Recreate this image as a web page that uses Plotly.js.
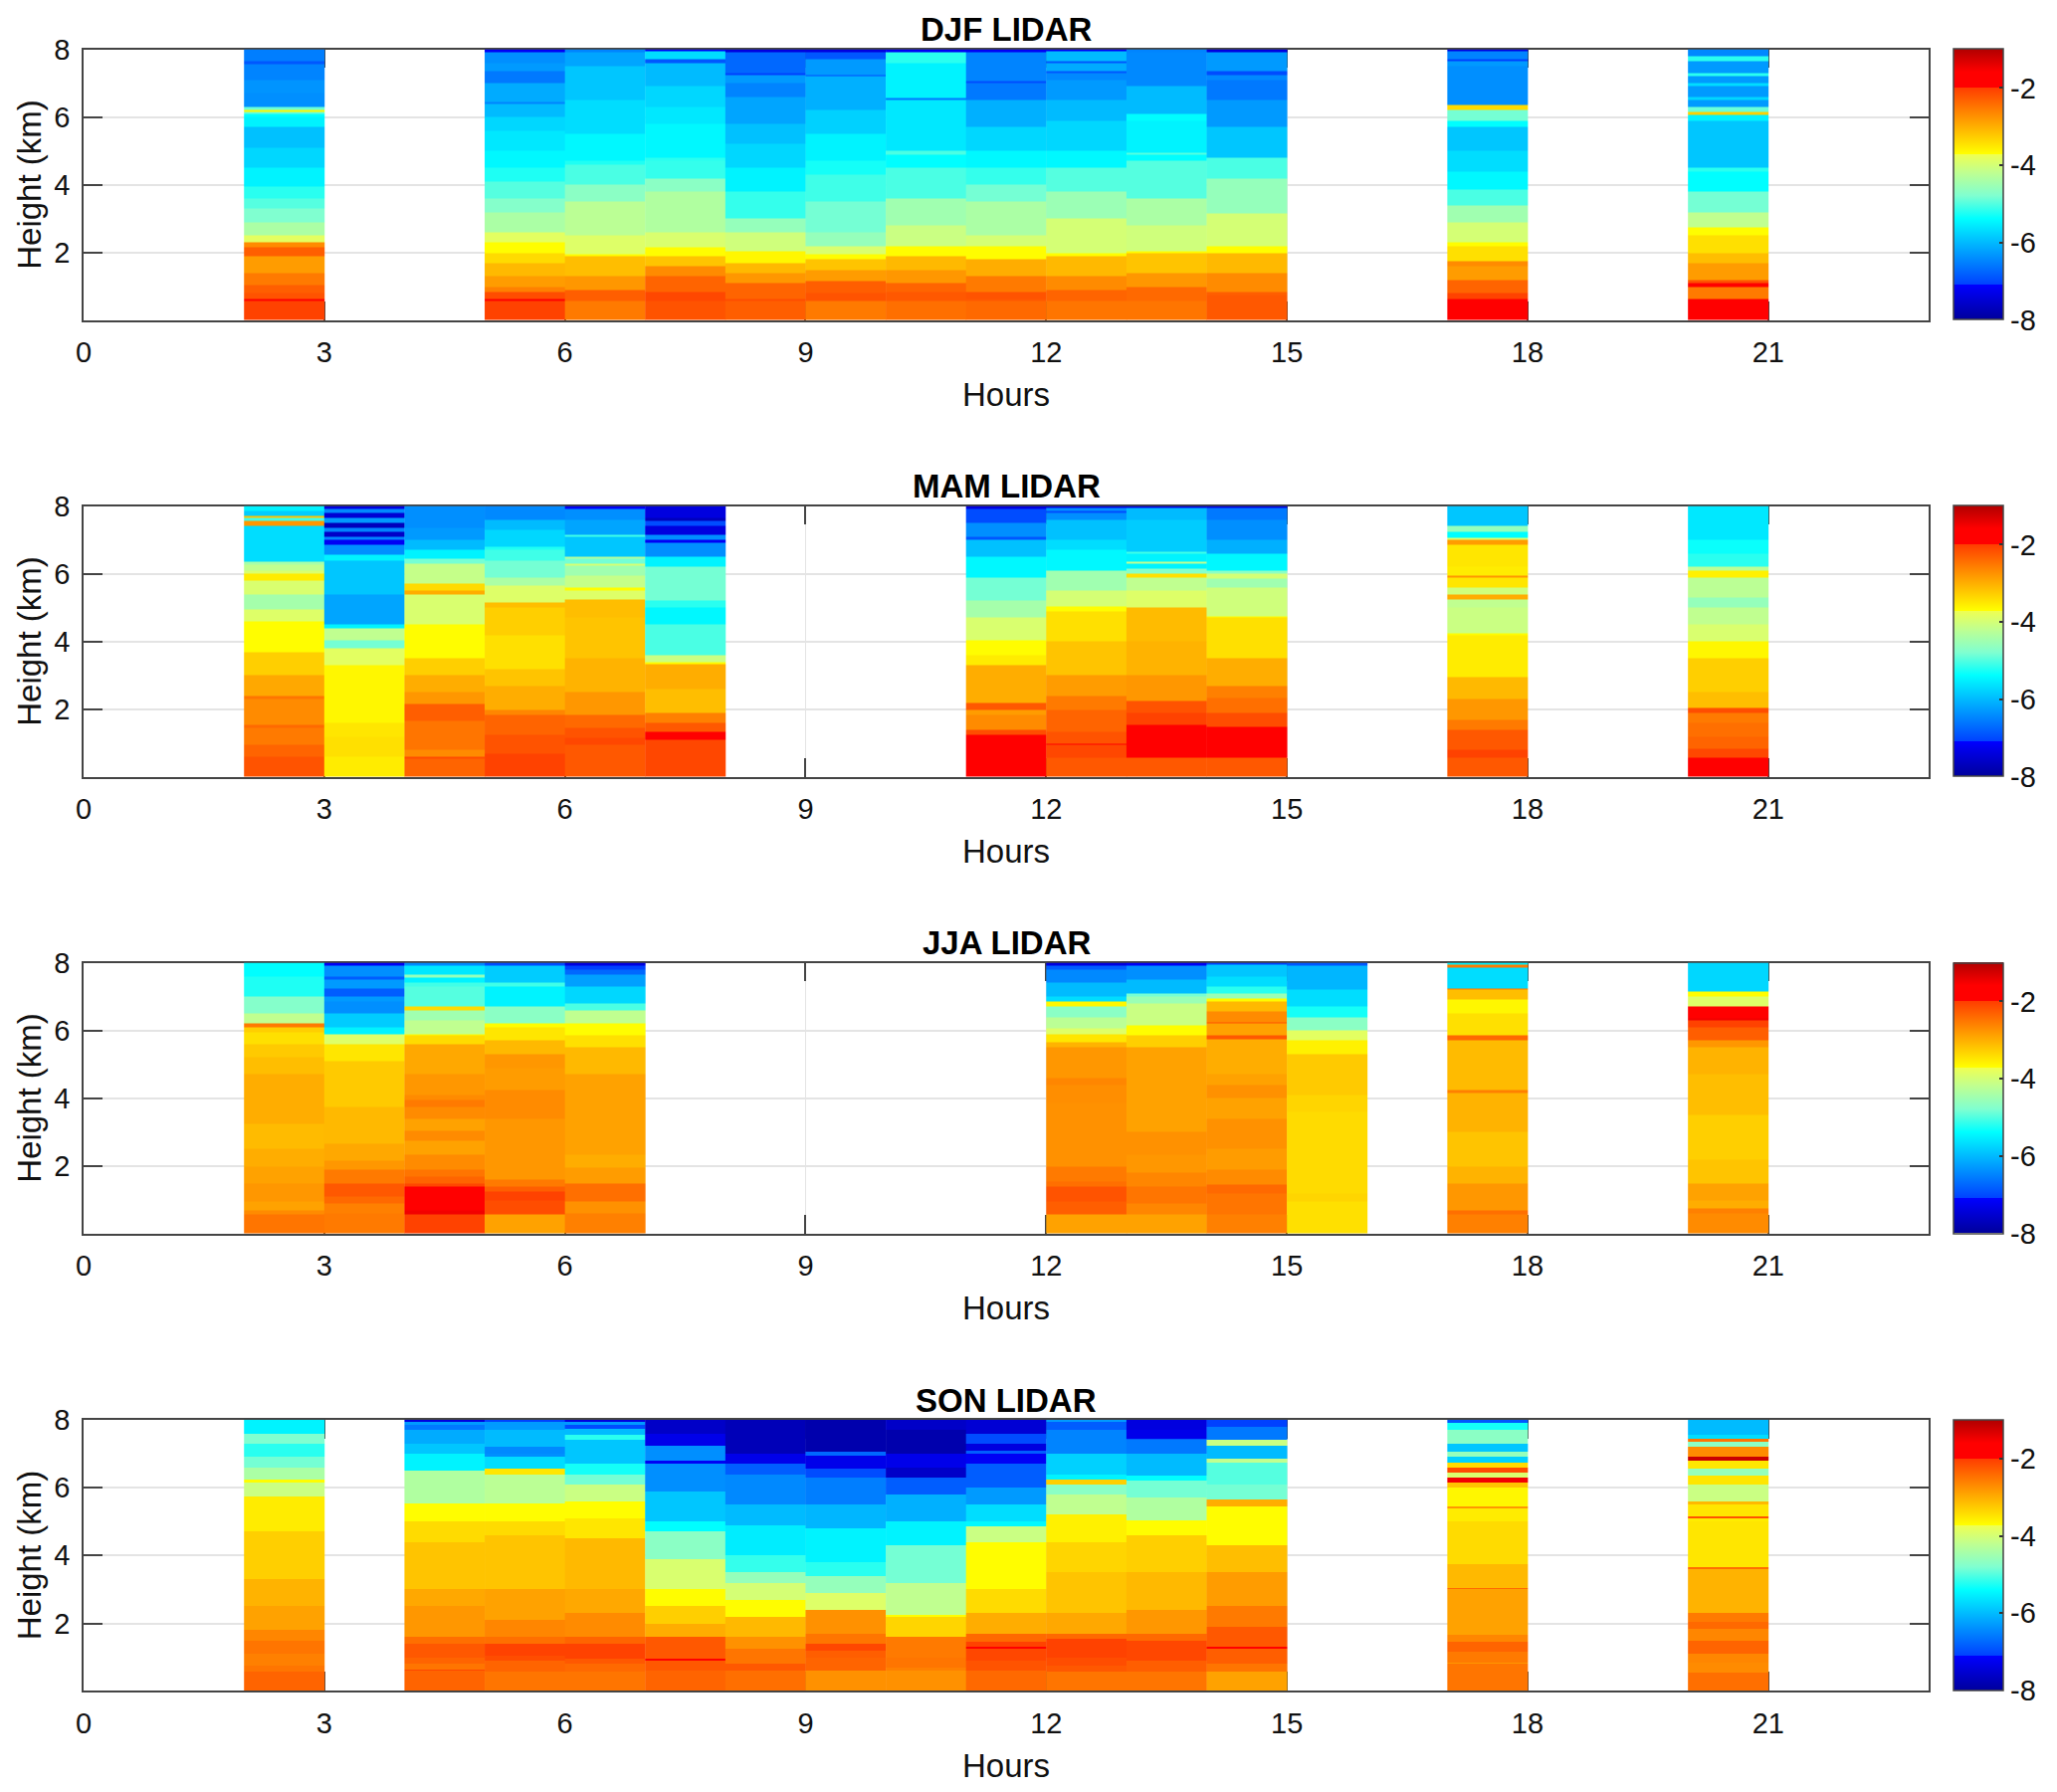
<!DOCTYPE html>
<html><head><meta charset="utf-8">
<script src="https://cdn.plot.ly/plotly-3.0.1.min.js"></script>
<style>html,body{margin:0;padding:0;background:#fff}</style></head>
<body><div id="chart" style="width:2067px;height:1801px"></div>
<script>
// Each column: alternating band top (km), log value.
const djf2=[.58,-2.05,.65,-1.85,.8,-2.2,1.05,-2.3,1.4,-2.55,1.9,-2.85,2.15,-2.3,2.3,-2.7,2.5,-3.85,2.9,-4.4,3.3,-4.8,3.6,-5,3.95,-5.2,4.5,-5.5,5.1,-5.75,5.7,-5.95,6,-5.5,6.1,-5.4,6.15,-4.9,6.22,-3.65,6.3,-4.9,6.7,-6.4,7.1,-6.35,7.55,-6.5,7.65,-6.9,8,-6.55];
const djf5=[.58,-2.05,.65,-1.85,.85,-2.15,1,-2.6,1.3,-2.85,1.7,-3.1,2,-3.4,2.3,-3.7,2.6,-3.85,3.2,-4.4,3.6,-4.75,4.1,-5,4.5,-5.25,5,-5.45,5.6,-5.6,6,-5.75,6.4,-6,6.45,-6.5,7,-6.15,7.35,-6.6,7.6,-6.3,7.9,-6.4,8,-7.2];
const djf6=[.58,-2.55,.9,-2.3,1.3,-2.8,1.9,-3.15,1.95,-3.7,2.5,-3.9,3.5,-4.25,4,-4.7,4.6,-5.05,4.7,-5.25,5.5,-5.45,6.5,-5.7,7.5,-5.9,7.9,-6.2,8,-6.5];
const djf7=[.58,-2.2,.83,-2.1,1.3,-2.35,1.6,-2.7,1.9,-3.2,2.15,-3.7,2.6,-3.95,3.8,-4.35,4.2,-4.7,4.7,-5.15,4.8,-5.2,5.8,-5.45,6.3,-5.6,6.9,-5.75,7.6,-6,7.72,-6.9,7.95,-5.7,8,-7.2];
const djf8=[.58,-2.3,.65,-2.15,1.1,-2.35,1.4,-2.8,1.7,-3.1,2.05,-3.65,2.6,-4.05,3,-4.6,3.8,-5.15,4.5,-5.5,5.2,-5.75,5.8,-5.95,6.6,-6.2,7,-6.5,7.25,-6.3,7.3,-7.1,7.9,-6.75,8,-7.4];
const djf9=[.58,-2.55,.8,-2.2,1.15,-2.3,1.5,-2.85,1.8,-3.2,1.95,-3.7,2.2,-3.95,2.6,-4.6,3.5,-4.85,4.3,-5.1,4.7,-5.3,5.5,-5.5,6.2,-5.8,7.2,-6.1,7.25,-7,7.7,-6.3,7.9,-6.9,8,-7.4];
const djf10=[.58,-2.45,.85,-2.25,1.1,-2.35,1.5,-2.8,1.9,-3.1,2.2,-3.7,2.8,-4.1,3.6,-4.5,4.5,-5.05,4.9,-5.4,5,-5.05,6.5,-5.6,6.55,-6.6,7.6,-5.5,7.9,-5.2,8,-7.2];
const djf11=[.58,-2.4,.65,-2.25,.85,-2.2,1.3,-2.55,1.8,-3,2.2,-3.7,2.5,-4,3.5,-4.4,4,-4.85,4.5,-5.15,5,-5.45,5.7,-5.75,6.5,-6.1,7,-6.6,7.05,-7,7.9,-6.5,8,-7.2];
const djf12=[.58,-2.5,.9,-2.35,1.3,-2.7,1.9,-3.1,2,-3.7,3,-4,3.8,-4.55,4.5,-5,5,-5.45,5.9,-5.75,6.5,-6,7.1,-6.3,7.3,-6.45,7.35,-6.9,7.6,-6.15,7.65,-6.9,7.95,-6,8,-7.2];
const djf13=[.58,-2.5,1,-2.4,1.4,-2.8,2,-3.2,2.05,-3.7,2.8,-4.05,3.6,-4.4,4.7,-5,4.9,-5.4,4.95,-5,5.9,-5.5,6.1,-5.4,6.9,-6,7.9,-6.45,8,-6.5];
const djf14=[.75,-2.25,.85,-2.3,1.4,-2.7,2,-3.1,2.2,-3.7,3.15,-4,4.2,-4.6,4.8,-5.05,5.7,-5.9,6.5,-6.3,7.1,-6.6,7.25,-6.45,7.35,-7,7.9,-6.3,8,-7.4];
const djf17=[.65,-1.8,.8,-2.05,1.2,-2.35,1.6,-2.85,1.75,-2.7,2.2,-3.45,2.3,-3.7,2.9,-4,3.4,-4.5,3.85,-5.05,4.4,-5.45,5,-5.7,5.7,-5.9,5.9,-5.4,6.2,-4.85,6.35,-3.4,7.5,-6.4,7.65,-6.3,7.7,-7.1,7.95,-6.5,8,-7.4];
const djf20=[.65,-1.85,1,-2.55,1.1,-1.9,1.2,-2.2,1.7,-2.85,2,-3.15,2.5,-3.45,2.75,-3.7,3.2,-4.2,3.8,-4.85,4.4,-5.4,4.5,-5.2,5.9,-5.9,6.05,-5.5,6.15,-3.3,6.3,-4.9,6.5,-6.3,6.6,-5.75,6.9,-6.3,7,-5.7,7.2,-6.3,7.3,-5.2,7.65,-6.3,7.8,-5.2,8,-6.45];

const mam2=[.62,-2.2,.95,-2.35,1.45,-2.55,1.55,-2.4,2.3,-2.7,2.4,-2.5,3,-2.95,3.7,-3.3,4.6,-3.7,4.95,-3.9,5.4,-4.45,5.8,-3.95,6,-3.55,6.1,-3.95,6.28,-4.2,6.35,-4.45,7.4,-5.7,7.55,-2.8,7.65,-5.1,7.7,-3.2,7.85,-5.85,8,-5.5];
const mam3=[.6,-3.55,1.2,-3.45,1.6,-3.5,3.3,-3.65,3.8,-3.85,4.05,-4.85,4.4,-4.2,4.5,-5.5,5.4,-6.2,6.4,-5.9,6.55,-5.5,6.85,-6.4,7,-7.2,7.1,-6.5,7.25,-7.6,7.35,-6.5,7.5,-7.7,7.65,-6.3,7.8,-7.5,7.92,-6.45,8,-7.4];
const mam4=[.55,-2.35,.6,-2.15,.8,-2.7,1.65,-2.5,2.15,-2.3,2.5,-2.8,3,-3,3.5,-3.3,4.5,-3.7,5.4,-3.95,5.5,-3,5.7,-3.4,6.3,-4.15,6.45,-4.85,6.7,-5.5,7,-6,7.35,-6.3,8,-6.4];
const mam5=[.7,-2.05,1.25,-2.2,1.85,-2.35,2,-2.65,2.7,-3,3.2,-3.2,4.2,-3.45,5,-3.3,5.15,-3.15,5.65,-3.9,5.9,-4.4,6.4,-4.85,6.7,-5.1,6.8,-5.25,7.3,-5.75,7.6,-6,8,-6.45];
const mam6=[.95,-2.25,1.15,-2.1,1.45,-2.2,1.85,-2.4,2.5,-2.8,3.5,-3.05,4.7,-3.2,5.25,-3.15,5.5,-3.9,5.6,-3.7,5.95,-4.15,6.25,-4.5,6.3,-4,6.45,-4.85,6.5,-4.35,7.1,-5.9,7.15,-5.1,7.6,-6.2,7.9,-6.4,8,-7.2];
const mam7=[1.1,-2.1,1.35,-1.85,1.6,-2.25,1.9,-2.6,2.6,-3.15,3.35,-3,3.4,-3.7,3.6,-4.1,4.5,-5.05,5,-5.45,5.2,-5.2,6.2,-4.85,6.5,-5.5,6.9,-6.4,7,-7.2,7.15,-6.4,7.4,-7.4,7.55,-7,7.65,-7.7,8,-7.4];
const mam11=[1.25,-1.85,1.4,-2.15,1.85,-2.7,2,-2.85,2.2,-2.25,3.3,-3,3.6,-3.55,4.05,-3.7,4.7,-3.95,5.2,-4.45,5.9,-4.85,6.5,-5.45,7,-5.95,7.1,-6.9,7.5,-6.4,7.9,-7,8,-7.4];
const mam12=[.58,-2.25,.95,-2.1,1,-1.9,1.35,-2.2,2,-2.35,2.4,-2.55,3,-2.85,4,-3.2,4.9,-3.45,5.05,-3.7,5.5,-4,6.1,-4.5,6.7,-5.45,7,-5.7,7.6,-5.95,7.8,-6.4,7.85,-7,7.95,-6.4,8,-7.4];
const mam13=[.58,-2.25,1.55,-1.85,1.9,-2.05,2.25,-2.2,3,-2.8,4,-3.05,5,-3.12,5.5,-3.9,5.9,-4.2,6,-3.45,6.15,-4.75,6.3,-5.5,6.35,-4.2,6.6,-5.5,6.65,-5.1,7.6,-5.85,7.95,-6,8,-7.4];
const mam14=[.58,-2.25,1.5,-1.85,1.9,-2.15,2.35,-2.45,2.7,-2.6,3.5,-3,4.7,-3.45,4.75,-3.7,5.6,-4.05,5.85,-4.5,6,-4,6.1,-4.7,6.6,-5.45,7,-6.1,7.6,-6.4,7.95,-6.6,8,-7.4];
const mam17=[.58,-2.25,.8,-2.05,1.4,-2.25,1.7,-2.55,2.3,-2.8,2.95,-3.1,4.2,-3.55,4.25,-3.7,5,-4.1,5.25,-4.2,5.38,-3,5.6,-4.05,5.9,-3.5,5.95,-2.8,6.2,-3.55,6.85,-3.5,7,-2.85,7.05,-3.95,7.25,-5.4,7.4,-4.6,8,-5.9];
const mam20=[.58,-1.9,.85,-2.1,1.2,-2.35,1.6,-2.45,1.9,-2.55,2.05,-2.15,2.5,-3.15,3.5,-3.3,4,-3.65,4.5,-3.95,5,-4.2,5.3,-4.6,5.9,-4.25,6.1,-3.6,6.2,-4.25,6.6,-5.2,7,-5.35,8,-5.6];

const jja2=[.58,-2.5,.7,-2.7,.95,-2.9,1.5,-2.8,2,-2.9,2.5,-3,3.25,-3.12,4.7,-3,5.2,-3.15,5.6,-3.25,5.95,-3.45,6.1,-3.3,6.2,-2.55,6.5,-4.2,7,-4.75,7.6,-5.25,8,-5.4];
const jja3=[.6,-2.55,.9,-2.6,1.1,-2.4,1.5,-2.25,1.9,-2.55,2.15,-2.8,2.65,-2.95,3.75,-3.1,5.1,-3.25,5.6,-3.5,5.9,-3.9,6.1,-5.5,6.5,-5.85,6.85,-6.4,7,-6.3,7.25,-6.85,7.5,-6.3,7.6,-6.85,7.9,-6.4,8,-7.2];
const jja4=[.58,-2.05,.7,-1.5,1.4,-1.85,1.5,-2.1,1.7,-2.35,1.9,-2.5,2.35,-2.7,2.75,-2.9,3.05,-2.7,3.4,-2.9,3.75,-2.7,3.95,-2.55,4.1,-2.7,4.7,-2.8,5.6,-2.95,5.85,-3.4,5.9,-3.7,6.3,-4.2,6.6,-4.5,6.7,-3.4,7.3,-5,7.4,-5.1,7.55,-5.5,7.65,-4.6,7.9,-5.6,8,-6.45];
const jja5=[.58,-2.9,1,-2.15,1.25,-2.05,1.4,-2.3,1.6,-2.55,3.4,-2.8,4.25,-2.7,4.9,-2.85,5.3,-2.8,5.7,-3.1,6.1,-3.5,6.2,-3.7,6.7,-4.7,7.3,-5.5,7.4,-5.1,7.9,-5.85,8,-7];
const jja6=[.6,-2.6,.95,-2.75,1.5,-2.45,1.95,-2.85,2.35,-3,4.7,-2.9,5.5,-3.1,5.85,-3.45,6.2,-3.7,6.6,-4.2,6.8,-5.05,7.3,-5.75,7.65,-6.25,7.8,-6.75,7.9,-7.1,8,-7.4];
const jja12=[.58,-2.9,.95,-2.3,1.4,-2.2,1.55,-2.45,2,-2.55,3.85,-2.75,4.4,-2.72,4.6,-2.65,5.5,-2.8,5.65,-3.05,5.9,-3.5,6.05,-3.9,6.4,-4.25,6.7,-4.7,6.85,-3.65,7,-5.7,7.4,-6,7.8,-6.45,7.9,-6.85,8,-7.4];
const jja13=[.58,-2.9,.9,-2.65,1.4,-2.5,1.8,-2.65,2.35,-2.8,3,-2.75,5.5,-2.9,5.85,-3.3,6.15,-3.7,6.8,-4.1,7,-4.55,7.1,-4.85,7.5,-6,7.9,-6.4,8,-7.2];
const jja14=[.58,-2.6,1.2,-2.5,1.45,-2.4,1.9,-2.7,2.5,-2.85,3.4,-2.75,4,-2.9,4.4,-2.75,4.7,-2.9,5.75,-3,5.85,-2.25,6.2,-2.9,6.25,-2.2,6.55,-2.7,6.85,-3.1,6.95,-3.7,7.1,-4.55,7.3,-5.2,7.6,-5.7,7.95,-5.9,8,-7.1];
const jja15=[.95,-3.45,1.2,-3.35,3.6,-3.4,4.1,-3.35,5.3,-3.25,5.7,-3.6,6,-3.85,6.4,-4.7,6.7,-5.3,7.2,-5.7,7.9,-6.05,8,-6.9];
const jja17=[.58,-2.6,.7,-2.45,1.5,-2.8,2,-3.05,3,-3.2,4.15,-3.05,4.25,-2.6,5.7,-3.12,5.85,-2.4,6.5,-3.45,6.9,-3.65,7.2,-3.15,7.25,-2.5,7.85,-5.7,7.95,-2.55,8,-5.5];
const jja20=[.6,-2.7,.75,-2.6,1,-3,1.5,-2.9,2.2,-3.2,3.5,-3.3,4.7,-3.15,5.5,-3.05,5.7,-2.8,6.1,-2.3,6.3,-2.05,6.35,-1.5,6.7,-1.85,7,-3.9,7.15,-3.7,8,-5.75];

const son2=[.58,-2.35,.75,-2.5,1.1,-2.6,1.5,-2.5,1.8,-2.65,2.5,-2.9,3.3,-3.05,4.7,-3.3,5.75,-3.55,6.15,-4.1,6.25,-3.7,6.6,-4.4,6.9,-4.85,7.3,-5.2,7.6,-4.8,8,-5.5];
const son4=[.6,-2.35,.65,-2.1,.8,-2.5,1,-2.35,1.4,-2.25,1.6,-2.45,2.5,-2.8,3,-2.95,4.4,-3.2,5,-3.4,5.55,-3.7,6.5,-4.35,7,-5.5,7.3,-5.9,7.7,-6.15,7.85,-6.6,7.95,-6.3,8,-7.4];
const son5=[.58,-2.5,.9,-2.35,1.05,-2.15,1.4,-2.05,1.6,-2.45,2.1,-2.65,3,-2.9,4.6,-3.2,5,-3.4,5.55,-3.7,6.4,-4.25,6.55,-3.5,6.9,-5.7,7,-6.4,7.2,-6.45,7.7,-6,7.95,-6.3,8,-7.1];
const son6=[.58,-2.5,.8,-2.4,.95,-2.25,1.4,-2.05,1.6,-2.35,2.3,-2.7,3,-2.95,4.5,-3.1,5.1,-3.5,5.6,-3.7,6.1,-4.1,6.4,-4.85,6.7,-5.3,7.4,-5.9,7.55,-5.2,7.75,-6,7.85,-7,7.95,-6.3,8,-7.4];
const son7=[.6,-2.35,.9,-2.25,.95,-2,1.6,-2.25,2,-3,2.5,-3.3,3,-3.7,3.9,-3.95,4.7,-4.7,5,-5.4,5.9,-5.9,6.7,-6.4,6.8,-7.2,7.25,-6.4,7.6,-7.3,8,-7.6];
const son8=[.6,-2.45,.8,-2.25,1.25,-2.5,1.6,-2.75,2.2,-3.1,2.7,-3.7,3.2,-4,3.5,-4.6,4,-5.15,4.9,-5.55,5.5,-6,6.4,-6.45,6.7,-6.85,7,-7.3,8,-7.75];
const son9=[.6,-2.75,1,-2.35,1.2,-2.3,1.4,-2.1,1.7,-2.5,2.4,-2.75,2.9,-3.9,3.4,-4.6,3.8,-5.2,4.8,-5.5,5.5,-6.05,6.3,-6.55,6.55,-7,6.95,-7.3,7.05,-6.75,8,-7.85];
const son10=[.6,-2.75,.7,-2.6,1,-2.5,1.6,-2.55,2.2,-3.35,2.25,-3.7,3.2,-4.2,4.3,-4.85,5,-5.5,5.8,-6.1,6.3,-6.85,6.6,-7.6,7,-7.3,7.7,-7.85,8,-7.6];
const son11=[.6,-2.4,.9,-2.2,1.25,-2.1,1.32,-1.9,1.45,-2.05,1.7,-2.4,2.3,-3,3,-3.4,4.4,-3.7,4.85,-4.1,5,-5.45,5.5,-5.7,6,-6.3,6.7,-6.85,7,-7.2,7.1,-6.85,7.3,-7.4,7.6,-7,8,-7.5];
const son12=[.58,-2.5,.75,-2.25,1,-2.15,1.55,-2.05,1.7,-2.4,2.3,-2.95,3.5,-3.2,4.4,-3.35,5.2,-3.6,5.8,-4.2,6.1,-4.7,6.25,-3.3,6.4,-5.5,7,-5.8,7.7,-6.5,7.95,-6.85,8,-6.3];
const son13=[.58,-2.5,.9,-2.3,1.5,-2.1,1.7,-2.4,2.4,-2.8,3.5,-3.1,4.6,-3.3,5.05,-3.7,5.7,-4.35,6.2,-4.85,6.35,-5.4,7,-6,7.4,-6.6,7.45,-6.85,7.7,-7.3,8,-7.4];
const son14=[.58,-2.9,.8,-2.5,1.25,-2.3,1.3,-2,1.9,-2.25,2.5,-2.55,3.5,-2.85,4.3,-3.15,5.45,-3.7,5.65,-3,6.1,-4.85,6.75,-5,6.85,-4.2,7.25,-6,7.4,-4.1,7.8,-6.6,8,-7.1];
const son17=[.8,-2.5,.85,-2.8,1.15,-2.55,1.45,-2.35,1.65,-2.65,3,-2.9,3.05,-2.4,3.75,-3.1,5,-3.4,5.4,-3.55,5.45,-2.8,6,-3.65,6.15,-3.2,6.3,-1.5,6.45,-3.95,6.6,-2.15,6.75,-3.4,6.9,-5.8,7.05,-4.6,7.3,-5.9,7.7,-4.7,7.9,-5.3,8,-6.9];
const son20=[.55,-2.45,.85,-2.7,1.1,-2.65,1.5,-2.35,1.85,-2.65,2.05,-2.4,2.3,-2.55,3.6,-3.05,3.65,-2.45,5,-3.5,5.1,-3.55,5.15,-2.2,5.5,-3.5,5.6,-3.1,6.1,-4.1,6.35,-3.5,6.55,-4.6,6.8,-3.5,6.9,-1.2,7.2,-2.7,7.35,-4.7,7.45,-2.5,7.55,-5.7,8,-6];

const panels=[
 {title:'DJF LIDAR',top:49.5,cols:[[2,djf2],[5,djf5],[6,djf6],[7,djf7],[8,djf8],[9,djf9],[10,djf10],[11,djf11],[12,djf12],[13,djf13],[14,djf14],[17,djf17],[20,djf20]]},
 {title:'MAM LIDAR',top:508.5,cols:[[2,mam2],[3,mam3],[4,mam4],[5,mam5],[6,mam6],[7,mam7],[11,mam11],[12,mam12],[13,mam13],[14,mam14],[17,mam17],[20,mam20]]},
 {title:'JJA LIDAR',top:967.5,cols:[[2,jja2],[3,jja3],[4,jja4],[5,jja5],[6,jja6],[12,jja12],[13,jja13],[14,jja14],[15,jja15],[17,jja17],[20,jja20]]},
 {title:'SON LIDAR',top:1427,cols:[[2,son2],[4,son4],[5,son5],[6,son6],[7,son7],[8,son8],[9,son9],[10,son10],[11,son11],[12,son12],[13,son13],[14,son14],[17,son17],[20,son20]]}
];
const xTicks=[0,3,6,9,12,15,18,21];
const yTicks=[2,4,6,8];
const barTicks=[-2,-4,-6,-8];
const barLabels=['-2','-4','-6','-8'];
const zMin=-8, zMax=-1;
const colorStops=[[-8,'#00009c'],[-7.11,'#0000ff'],[-7.11,'#0040ff'],[-5.39,'#00ffff'],[-4.8,'#80ffd0'],[-4.2,'#c0ff90'],[-3.72,'#f0ff50'],[-3.72,'#ffff00'],[-2,'#ff3c00'],[-2,'#ff0000'],[-1.6,'#ff0000'],[-1,'#b00000']];

const W=2067,H=1801,PH=272,L=84,R=1938;
const colorscale=colorStops.map(s=>[(s[0]-zMin)/(zMax-zMin),s[1]]);
const font='"Liberation Sans", Arial, sans-serif';
const traces=[];
const layout={width:W,height:H,margin:{l:0,r:0,t:0,b:0},paper_bgcolor:'#fff',plot_bgcolor:'#fff',showlegend:false,annotations:[],font:{family:font,color:'#111'}};
panels.forEach((p,i)=>{
 const n=i===0?'':String(i+1);
 const y0=1-(p.top+PH)/H,y1=1-p.top/H;
 p.cols.forEach(c=>{
  const flat=c[1],ys=[0],z=[];
  for(let k=0;k<flat.length;k+=2){ys.push(flat[k]);z.push([flat[k+1]]);}
  traces.push({type:'heatmap',x:[c[0],c[0]+1],y:ys,z:z,xaxis:'x'+n,yaxis:'y'+n,coloraxis:'coloraxis'+n,zsmooth:false});
 });
 const axisCommon={showline:true,mirror:'ticks',linecolor:'#444',linewidth:1.5,ticks:'inside',ticklen:19,tickwidth:1.5,tickcolor:'#444',showgrid:true,zeroline:false,layer:'below traces',tickfont:{family:font,size:29,color:'#111'},tickmode:'array'};
 layout['xaxis'+n]=Object.assign({},axisCommon,{domain:[L/W,R/W],range:[0,23],anchor:'y'+n,tickvals:xTicks,ticktext:xTicks.map(String),gridcolor:'#e4e4e4',gridwidth:1,ticklabelstandoff:6,title:{text:'Hours',font:{family:font,size:33,color:'#111'},standoff:16}});
 layout['yaxis'+n]=Object.assign({},axisCommon,{domain:[y0,y1],range:[0.02,8],anchor:'x'+n,tickvals:yTicks,ticktext:yTicks.map(String),gridcolor:'#e4e4e4',gridwidth:2,ticklabelstandoff:6,title:{text:'Height (km)',font:{family:font,size:33,color:'#111'},standoff:3}});
 layout['coloraxis'+n]={cmin:zMin,cmax:zMax,colorscale:colorscale,colorbar:{x:1962.5/W,xanchor:'left',xpad:0,y:y1,yanchor:'top',ypad:0,len:PH/H,lenmode:'fraction',thickness:50,thicknessmode:'pixels',outlinecolor:'#444',outlinewidth:1.5,ticks:'inside',ticklen:4,tickwidth:1.5,tickcolor:'#333',tickmode:'array',tickvals:barTicks,ticktext:barLabels,tickfont:{family:font,size:29,color:'#111'}}};
 layout.annotations.push({text:'<b>'+p.title+'</b>',xref:'paper',yref:'paper',x:(L+R)/2/W,y:y1,xanchor:'center',yanchor:'bottom',showarrow:false,yshift:-1,font:{family:font,size:33,color:'#000'}});
});
Plotly.newPlot('chart',traces,layout,{displayModeBar:false,responsive:false});
</script></body></html>
